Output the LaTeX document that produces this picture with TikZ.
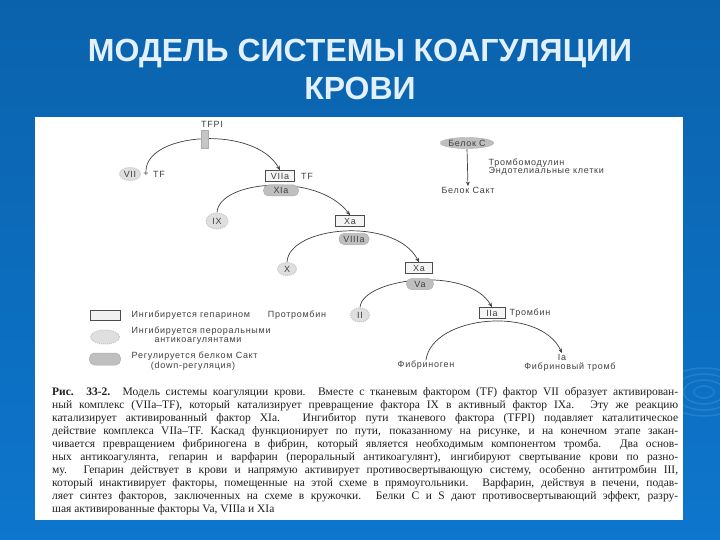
\documentclass[tikz,border=0pt]{standalone}
\usepackage{fontspec}
\setmainfont{Liberation Serif}
\newfontfamily\titlefont{Liberation Sans}
\newfontfamily\dgfont[LetterSpace=8]{Liberation Sans}
\usetikzlibrary{arrows.meta,shapes.geometric}
\definecolor{bgtop}{RGB}{11,98,172}
\definecolor{bgbot}{RGB}{13,118,205}
\definecolor{titlecol}{RGB}{226,240,255}
\newcommand{\capline}[1]{\hbox to 626pt{#1}}
\pgfdeclarelayer{back}
\pgfdeclarelayer{links}
\pgfsetlayers{back,links,main}
\begin{document}
\begin{tikzpicture}[x=1pt,y=-1pt,
  titletext/.style={font=\titlefont\bfseries\fontsize{32}{36}\selectfont, text=titlecol, inner sep=0pt},
  dtext/.style={font=\dgfont\fontsize{9}{10}\selectfont, text=black!75, inner sep=0.5pt},
  hb/.style={dtext, draw=black!70, fill=gray!8, line width=0.6pt, minimum width=29pt, minimum height=11pt, inner sep=0pt},
  pl/.style={dtext, draw=gray!65, fill=gray!50, rounded corners=5pt, line width=0.5pt, minimum width=35pt, minimum height=11pt, inner sep=0pt},
  fz/.style={dtext, ellipse, draw=gray!45, fill=gray!25, densely dotted, line width=1pt, minimum width=20pt, minimum height=13pt, inner sep=0.5pt},
  inhib/.style={rectangle, draw=gray!65, fill=gray!45, minimum width=7pt, minimum height=18pt, inner sep=0pt},
  conn/.style={draw=black!75, line width=0.7pt, -{Stealth[length=4.5pt,width=3.8pt]}},
  captext/.style={font=\fontsize{11.5}{13}\selectfont, text=black!88, inner sep=0pt, anchor=base west}]
\useasboundingbox (0,0) rectangle (720,540);
\begin{pgfonlayer}{back}
\shade[top color=bgtop, bottom color=bgbot] (0,0) rectangle (720,540);
\foreach \r in {6,12,18,24}{
  \draw[white, opacity=0.10, line width=1.5pt] (704,392) ellipse [x radius=1.7*\r pt, y radius=\r pt];
}
\fill[white] (35,117) rectangle (683,520);
\end{pgfonlayer}

% title
\node[titletext, anchor=base] (t1) at (360,62) {МОДЕЛЬ СИСТЕМЫ КОАГУЛЯЦИИ};
\node[titletext, anchor=base] (t2) at (360,100) {КРОВИ};

% diagram nodes
\node[dtext] (tfpi) at (212,124) {TFPI};
\node[inhib] (bar) at (205,139) {};
\node[fz, minimum width=21pt] (vii) at (130,174) {VII};
\node[dtext] (plus) at (146,174) {+};
\node[dtext] (tf1) at (159,174) {TF};
\node[hb] (viia) at (280,176) {VIIa};
\node[dtext] (tf2) at (307,176) {TF};
\node[pl] (xia) at (281,190.5) {XIa};
\node[fz, minimum width=22pt, minimum height=16pt] (ix) at (217,221) {IX};
\node[hb] (xa1) at (350,221) {Xa};
\node[pl, minimum width=30pt] (viiia) at (354,239) {VIIIa};
\node[fz, minimum width=19pt] (x) at (287,269) {X};
\node[hb, minimum width=27pt] (xa2) at (419,268) {Xa};
\node[pl, minimum width=27pt] (va) at (420,284) {Va};
\node[dtext] (prot) at (297,315) {Протромбин};
\node[fz, minimum width=19pt, minimum height=14pt] (ii) at (360,315) {II};
\node[hb, minimum width=26pt] (iia) at (492,313) {IIa};
\node[dtext] (thr) at (530,313) {Тромбин};
\node[dtext] (fib) at (426,365) {Фибриноген};
\node[dtext] (ia) at (562,357) {Ia};
\node[dtext] (clot) at (570,367) {Фибриновый тромб};
\node[dtext, ellipse, draw=gray!65, fill=gray!50, minimum width=50pt, minimum height=11pt, inner sep=0pt] (protc) at (467,143) {Белок C};
\node[dtext] (protca) at (468,190) {Белок Cакт};
\node[dtext, anchor=west] (tm) at (488,163) {Тромбомодулин};
\node[dtext, anchor=west] (endo) at (488,171.5) {Эндотелиальные клетки};

% legend
\node[hb, minimum width=30pt, minimum height=10pt, fill=gray!12] (lg1) at (105,315) {};
\node[dtext, anchor=west] (lt1) at (131,315) {Ингибируется гепарином};
\node[fz, minimum width=29pt, minimum height=14pt] (lg2) at (105,337) {};
\node[dtext, anchor=west] (lt2) at (131,331) {Ингибируется пероральными};
\node[dtext] (lt2b) at (198,341) {антикоагулянтами};
\node[pl, minimum width=31pt, minimum height=12pt] (lg3) at (105,359) {};
\node[dtext, anchor=west] (lt3) at (131,356) {Регулируется белком Cакт};
\node[dtext] (lt3b) at (193,366) {(down-регуляция)};

% connectors
\begin{pgfonlayer}{links}
\draw[conn] (plus.north) .. controls (147,132) and (255,125) .. (viia.north);
\draw[conn] (ix.north) .. controls (219,180) and (318,172) .. (xa1.north);
\draw[conn] (x.north) .. controls (289,226) and (395,216) .. (xa2.north);
\draw[conn] (ii.north) .. controls (362,278) and (468,265) .. (iia.north);
\draw[conn] (fib.north) .. controls (432,315) and (540,305) .. (ia.north);
\draw[conn] (protc.south) -- (protca.north);
\end{pgfonlayer}

% caption
\node[captext] (c1) at (52,395) {\capline{\textbf{Рис. 33-2.} Модель системы коагуляции крови. Вместе с тканевым фактором (TF) фактор VII образует активирован-}};
\node[captext] (c2) at (52,408) {\capline{ный комплекс (VIIa–TF), который катализирует превращение фактора IX в активный фактор IXa. Эту же реакцию}};
\node[captext] (c3) at (52,421) {\capline{катализирует активированный фактор XIa. Ингибитор пути тканевого фактора (TFPI) подавляет каталитическое}};
\node[captext] (c4) at (52,434) {\capline{действие комплекса VIIa–TF. Каскад функционирует по пути, показанному на рисунке, и на конечном этапе закан-}};
\node[captext] (c5) at (52,447) {\capline{чивается превращением фибриногена в фибрин, который является необходимым компонентом тромба. Два основ-}};
\node[captext] (c6) at (52,460) {\capline{ных антикоагулянта, гепарин и варфарин (пероральный антикоагулянт), ингибируют свертывание крови по разно-}};
\node[captext] (c7) at (52,473) {\capline{му. Гепарин действует в крови и напрямую активирует противосвертывающую систему, особенно антитромбин III,}};
\node[captext] (c8) at (52,486) {\capline{который инактивирует факторы, помещенные на этой схеме в прямоугольники. Варфарин, действуя в печени, подав-}};
\node[captext] (c9) at (52,499) {\capline{ляет синтез факторов, заключенных на схеме в кружочки. Белки C и S дают противосвертывающий эффект, разру-}};
\node[captext] (c10) at (52,512) {шая активированные факторы Va, VIIIa и XIa};
\end{tikzpicture}
\end{document}
